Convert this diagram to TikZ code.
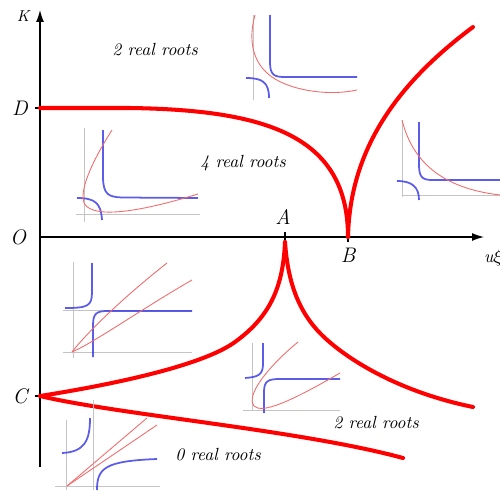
\documentclass[tikz,border=0pt]{standalone}
\usepackage{tikz}
\usetikzlibrary{arrows.meta,positioning}
\definecolor{curvered}{HTML}{FF0000}
\definecolor{thinred}{HTML}{F46A6A}
\definecolor{hypblue}{HTML}{3F3FE6}
\definecolor{gridgray}{HTML}{C4C4C4}
\tikzset{
  axisline/.style={-{Latex[length=2.4mm,width=1.6mm]}, line width=0.7pt},
  tickmark/.style={line width=0.6pt},
  bigcurve/.style={draw=curvered, line width=2.3pt, line cap=round, line join=round},
  insetgrid/.style={draw=gridgray, line width=0.45pt},
  insetblue/.style={draw=hypblue, line width=1pt, opacity=0.85},
  insetred/.style={draw=thinred, line width=0.5pt},
  ptlabel/.style={font=\large\itshape, inner sep=1pt},
  regionlabel/.style={font=\normalsize\itshape, inner sep=1pt}
}
\begin{document}
\begin{tikzpicture}[x=0.02cm,y=-0.02cm]
  \useasboundingbox (0,0) rectangle (500,490);
  % axes
  \coordinate (kbot) at (40,467);
  \coordinate (ktip) at (40,10);
  \coordinate (orig) at (40,237);
  \coordinate (utip) at (484,237);
  \draw[axisline] (kbot) -- (ktip);
  \draw[axisline] (orig) -- (utip);
  \node[font=\small\itshape, inner sep=1pt] (klab) at (23,16) {K};
  \node[font=\itshape, anchor=west, inner sep=1pt] (ulab) at (482,258) {u$\xi$};
  % special points
  \coordinate (D) at (40,108);
  \coordinate (C) at (40,396);
  \coordinate (A) at (285,237);
  \coordinate (B) at (348,237);
  \coordinate (Acusp) at (285,242);
  \draw[tickmark] ([xshift=-3]D) -- ([xshift=3]D);
  \draw[tickmark] ([xshift=-3]C) -- ([xshift=3]C);
  \draw[tickmark] ([yshift=-3]A) -- ([yshift=3]A);
  \draw[tickmark] ([yshift=-3]B) -- ([yshift=3]B);
  \node[ptlabel] (dlab) at (20,108) {D};
  \node[ptlabel] (olab) at (18,237) {O};
  \node[ptlabel] (clab) at (20,396) {C};
  \node[ptlabel] (alab) at (283,217) {A};
  \node[ptlabel] (blab) at (348,255) {B};
  % discriminant curves
  \draw[bigcurve] (D) -- (130,108) .. controls (265,110) and (348,135) .. (B);
  \draw[bigcurve] (B) .. controls (350,145) and (402,80) .. (473,27);
  \draw[bigcurve] (Acusp) .. controls (283,290) and (268,318) .. (235,342)
    .. controls (202,366) and (110,385) .. (C);
  \draw[bigcurve] (Acusp) .. controls (288,285) and (300,315) .. (325,338)
    .. controls (350,361) and (400,392) .. (473,407);
  \draw[bigcurve] (C) .. controls (120,415) and (300,430) .. (403,458);
  % region labels
  \node[regionlabel] (top2) at (155,50) {2 real roots};
  \node[regionlabel] (four) at (243,163) {4 real roots};
  \node[regionlabel] (low2) at (376,423) {2 real roots};
  \node[regionlabel] (zero) at (218,455) {0 real roots};
  % inset: upper left
  \draw[insetgrid] (84,128) -- (84,222);
  \draw[insetgrid] (76,214) -- (200,214);
  \draw[insetblue] (103,130) -- (103,178) .. controls (103.5,194) and (108,197) .. (122,197.5) -- (198,198);
  \draw[insetblue] (77,198) .. controls (95,198) and (101,203) .. (102,220);
  \draw[insetred] (112,130) .. controls (88,168) and (80,192) .. (84,203)
    .. controls (90,215) and (120,218) .. (198,194);
  % inset: top
  \draw[insetgrid] (253,15) -- (253,100);
  \draw[insetblue] (270,15) -- (270,62) .. controls (270,75) and (274,77) .. (285,77) -- (357,77);
  \draw[insetblue] (246,78) .. controls (262,78) and (269,82) .. (269,98);
  \draw[insetred] (255,15) .. controls (248,40) and (252,65) .. (275,79)
    .. controls (295,91) and (330,96) .. (357,90);
  % inset: right
  \draw[insetgrid] (402,120) -- (402,197);
  \draw[insetgrid] (402,195) -- (500,195);
  \draw[insetblue] (419,122) -- (419,165) .. controls (419,178) and (423,180) .. (433,180) -- (500,180);
  \draw[insetblue] (397,181) .. controls (412,181) and (419,187) .. (419,200);
  \draw[insetred] (402,120) .. controls (412,160) and (440,188) .. (500,195);
  % inset: left middle
  \draw[insetgrid] (73,262) -- (73,358);
  \draw[insetgrid] (63,352) -- (192,352);
  \draw[insetgrid] (63,310) -- (192,310);
  \draw[insetblue] (92,263) -- (92,292) .. controls (92,306) and (88,308) .. (65,308);
  \draw[insetblue] (93,357) -- (93,325) .. controls (93,313) and (97,311) .. (108,311) -- (192,311);
  \draw[insetred] (72,352) .. controls (85,335) and (120,300) .. (167,263);
  \draw[insetred] (72,352) .. controls (95,342) and (140,310) .. (192,280);
  % inset: bottom middle
  \draw[insetgrid] (252,343) -- (252,410);
  \draw[insetgrid] (243,410) -- (340,410);
  \draw[insetblue] (263,343) -- (263,364) .. controls (263,375) and (258,377) .. (245,378);
  \draw[insetblue] (264,413) -- (264,392) .. controls (264,381) and (268,379) .. (280,379) -- (340,379);
  \draw[insetred] (298,342) .. controls (270,365) and (245,395) .. (254,406)
    .. controls (262,414) and (290,402) .. (340,373);
  % inset: bottom left
  \draw[insetgrid] (66,420) -- (66,490);
  \draw[insetgrid] (93,400) -- (93,490);
  \draw[insetgrid] (55,486) -- (160,486);
  \draw[insetblue] (90,418) .. controls (90,440) and (85,452) .. (62,453);
  \draw[insetblue] (97,490) .. controls (97,468) and (105,461) .. (157,459);
  \draw[insetred] (67,486) -- (147,418);
  \draw[insetred] (67,486) -- (157,425);
\end{tikzpicture}
\end{document}
